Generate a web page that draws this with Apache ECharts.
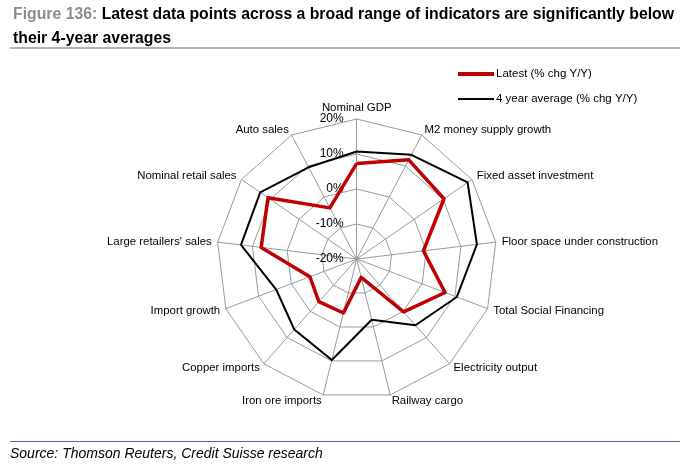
<!DOCTYPE html>
<html>
<head>
<meta charset="utf-8">
<script src="https://cdn.jsdelivr.net/npm/echarts@6/dist/echarts.min.js"></script>
<style>
html,body{margin:0;padding:0;background:#fff;}
#chart{width:689px;height:476px;}
</style>
</head>
<body>
<div id="chart"></div>
<script>
// Indicators listed clockwise from the top
var categories = ["Nominal GDP", "M2 money supply growth", "Fixed asset investment",
  "Floor space under construction", "Total Social Financing", "Electricity output",
  "Railway cargo", "Iron ore imports", "Copper imports", "Import growth",
  "Large retailers' sales", "Nominal retail sales", "Auto sales"];
var latest = [7.3, 12.0, 10.3, -0.8, 7.0, 0.2, -14.6, -4.1, -3.7, -5.7, 7.5, 10.8, -3.5];
var average4y = [10.7, 13.6, 18.5, 14.6, 10.6, 5.3, -2.1, 9.7, 6.9, 4.6, 13.3, 13.5, 9.6];
var axisMin = -20, axisMax = 20, axisStep = 10;
var seriesNames = ["Latest (% chg Y/Y)", "4 year average (% chg Y/Y)"];

// ECharts radar runs counter-clockwise: keep first, reverse the rest
function ccw(arr) { return [arr[0]].concat(arr.slice(1).reverse()); }

var FONT = "'Liberation Sans', Arial, Helvetica, sans-serif";
var chart = echarts.init(document.getElementById('chart'));
var cx = 356.7, cy = 259, R = 140;

chart.setOption({
  animation: false,
  title: {
    left: 8, top: -2,
    text: '{g|Figure 136: }{b|Latest data points across a broad range of indicators are significantly below}\n{b|their 4-year averages}',
    textStyle: {
      rich: {
        g: {color: '#8c8c8c', fontWeight: 'bold', fontSize: 15.8, fontFamily: FONT, lineHeight: 24},
        b: {color: '#000', fontWeight: 'bold', fontSize: 15.8, fontFamily: FONT, lineHeight: 24}
      }
    }
  },
  legend: [{
    left: 453, top: 63, itemWidth: 36, itemHeight: 4, icon: 'rect',
    data: [{name: seriesNames[0], itemStyle: {color: '#c00000'}}],
    textStyle: {fontFamily: FONT, fontSize: 11.5, color: '#000', padding: [0, 0, 0, -3]}
  }, {
    left: 453, top: 88, itemWidth: 36, itemHeight: 2, icon: 'rect',
    data: [{name: seriesNames[1], itemStyle: {color: '#000'}}],
    textStyle: {fontFamily: FONT, fontSize: 11.5, color: '#000', padding: [0, 0, 0, -3]}
  }],
  radar: {
    center: [cx, cy], radius: R, startAngle: 90, shape: 'polygon', splitNumber: 4,
    indicator: ccw(categories).map(function (n) { return {name: n, min: axisMin, max: axisMax}; }),
    axisName: {color: '#000', fontFamily: FONT, fontSize: 11.4},
    nameGap: 6,
    splitLine: {lineStyle: {color: '#9a9a9a', width: 1}},
    splitArea: {show: false},
    axisLine: {lineStyle: {color: '#9a9a9a', width: 1}},
    axisTick: {show: false},
    axisLabel: {show: false}
  },
  polar: {center: [cx, cy], radius: R},
  angleAxis: {show: false, startAngle: 90, min: 0, max: 360},
  radiusAxis: {
    min: axisMin, max: axisMax, interval: axisStep,
    axisLine: {show: false}, axisTick: {show: false}, splitLine: {show: false},
    axisLabel: {formatter: '{value}%', color: '#000', fontFamily: FONT, fontSize: 12, margin: 13, padding: [4, 0, 0, 0]}
  },
  graphic: [
    {type: 'line', shape: {x1: 10, y1: 48, x2: 680, y2: 48}, style: {stroke: '#4a6b9b', lineWidth: 1.2}},
    {type: 'line', shape: {x1: 10, y1: 441.5, x2: 680, y2: 441.5}, style: {stroke: '#4a6b9b', lineWidth: 1.2}},
    {type: 'text', left: 10, top: 447, style: {text: 'Source: Thomson Reuters, Credit Suisse research', font: 'italic 14px ' + FONT, fill: '#000'}}
  ],
  series: [{
    type: 'radar', symbol: 'none',
    data: [
      {name: seriesNames[1], value: ccw(average4y), lineStyle: {color: '#000', width: 2}, itemStyle: {color: '#000'}},
      {name: seriesNames[0], value: ccw(latest), lineStyle: {color: '#c00000', width: 3.5}, itemStyle: {color: '#c00000'}}
    ]
  }]
});
</script>
</body>
</html>
